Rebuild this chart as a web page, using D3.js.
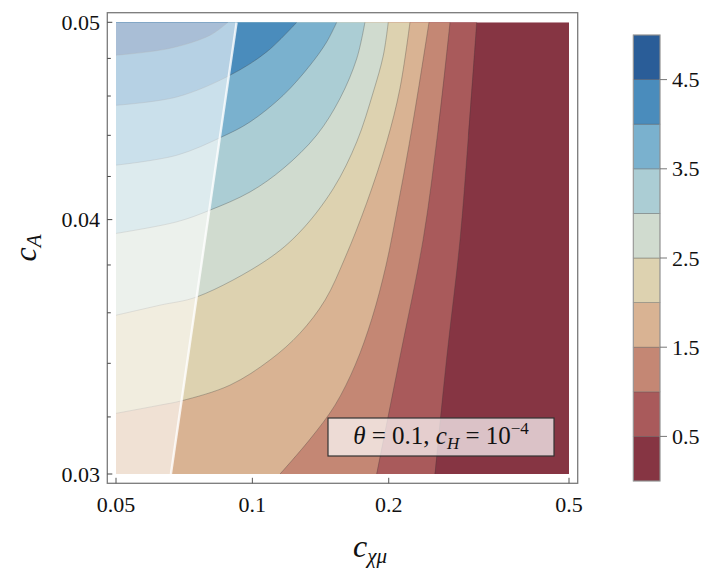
<!DOCTYPE html>
<html><head><meta charset="utf-8">
<script src="https://cdn.jsdelivr.net/npm/d3@7"></script>
<style>body{margin:0;background:#fff;} svg{display:block;}</style>
</head><body>
<svg id="chart" width="720" height="586"></svg>
<script>
// ---- data ----
const levels = [0.5, 1.0, 1.5, 2.0, 2.5, 3.0, 3.5, 4.0, 4.5];
const bandColors = ['#863543','#A95A5B','#C48774','#D9B393','#DDD2B0','#D0DBCF','#ABCDD4','#7AB1CE','#4A8CBC','#2A5D98'];
const colorbarTicks = [0.5, 1.5, 2.5, 3.5, 4.5];
const xTicks = [0.05, 0.1, 0.2, 0.5];
const yMajorTicks = [0.03, 0.04, 0.05];
const yMinorTicks = [0.032,0.034,0.036,0.038,0.042,0.044,0.046,0.048];
// contour boundaries [c_chi_mu, c_A]
const contour_0_5 = [[0.2530,0.03],[0.2686,0.03424],[0.2873,0.03908],[0.2997,0.04392],[0.3127,0.05]];
const contour_1_0 = [[0.1881,0.03],[0.2117,0.03424],[0.2381,0.03908],[0.2569,0.04426],[0.2731,0.05]];
const contour_1_5 = [[0.1151,0.03],[0.1341,0.03121],[0.1522,0.03243],[0.1686,0.03393],[0.1837,0.03578],[0.1973,0.03799],[0.2096,0.04066],[0.2217,0.04351],[0.2333,0.04656],[0.2454,0.05]];
const contour_2_0 = [[0.05,0.03213],[0.0625,0.03243],[0.0698,0.03259],[0.0892,0.03317],[0.1094,0.03413],[0.1274,0.03518],[0.1447,0.03652],[0.1601,0.03830],[0.1787,0.04075],[0.1980,0.04368],[0.2117,0.04639],[0.2228,0.05]];
const contour_2_5 = [[0.05,0.03590],[0.0625,0.03631],[0.0756,0.03666],[0.1075,0.03821],[0.1274,0.03945],[0.1509,0.04143],[0.1700,0.04368],[0.1849,0.04621],[0.1946,0.04817],[0.1995,0.05]];
const contour_3_0 = [[0.05,0.03938],[0.0681,0.03990],[0.0806,0.04043],[0.0988,0.04127],[0.1170,0.04238],[0.1387,0.04401],[0.1561,0.04587],[0.1700,0.04799],[0.1772,0.05]];
const contour_3_5 = [[0.05,0.04254],[0.0681,0.04302],[0.0856,0.04392],[0.0988,0.04467],[0.1170,0.04604],[0.1341,0.04763],[0.1459,0.04890],[0.1535,0.05]];
const contour_4_0 = [[0.05,0.04552],[0.0681,0.04595],[0.0892,0.04709],[0.1075,0.04835],[0.1253,0.05]];
const contour_4_5 = [[0.05,0.04817],[0.0658,0.04855],[0.0806,0.04927],[0.0883,0.05]];
const contours = [contour_0_5, contour_1_0, contour_1_5, contour_2_0, contour_2_5, contour_3_0, contour_3_5, contour_4_0, contour_4_5];
// boundary of the shaded (excluded) region
const boundaryLine = [[0.0661,0.03],[0.0923,0.05]];

// ---- drawing ----
const svg = d3.select('#chart');
const FONT = "'Liberation Serif','Times New Roman',serif";
const x = d3.scaleLog().domain([0.05,0.5]).range([116,569]);
const y = d3.scaleLog().domain([0.03,0.05]).range([474,22.3]);
const [x0,x1] = x.range(), [y0,y1] = y.range();

svg.append('clipPath').attr('id','plotclip').append('rect')
  .attr('x',x0).attr('y',y1).attr('width',x1-x0).attr('height',y0-y1);
const plot = svg.append('g').attr('clip-path','url(#plotclip)');

plot.append('rect').attr('x',x0).attr('y',y1).attr('width',x1-x0).attr('height',y0-y1)
  .attr('fill',bandColors[0]);

const line = d3.line().x(d=>x(d[0])).y(d=>y(d[1])).curve(d3.curveCatmullRom.alpha(0.5));
function regionPath(pts){
  let p = line(pts);
  p += `L${x(0.05)},${y(0.05)}`;
  if (pts[0][1] === 0.03) p += `L${x(0.05)},${y(0.03)}`;
  return p + 'Z';
}
contours.forEach((c,i)=>{
  plot.append('path').attr('d',regionPath(c)).attr('fill',bandColors[i+1]).attr('stroke','none');
});
contours.forEach(c=>{
  plot.append('path').attr('d',line(c)).attr('fill','none')
    .attr('stroke','#3a3a3a').attr('stroke-opacity',0.35).attr('stroke-width',0.9);
});
// white overlay of the left region
const ov = [[0.05,0.03],boundaryLine[0],boundaryLine[1],[0.05,0.05]];
plot.append('path').attr('d','M'+ov.map(d=>`${x(d[0])},${y(d[1])}`).join('L')+'Z')
  .attr('fill','#fff').attr('fill-opacity',0.6);
plot.append('path').attr('d',d3.line().x(d=>x(d[0])).y(d=>y(d[1]))(boundaryLine))
  .attr('stroke','#fff').attr('stroke-opacity',0.8).attr('stroke-width',2.4).attr('fill','none');

// frame
const fx0=107.3, fx1=577.7, fy0=12.7, fy1=483.3;
svg.append('rect').attr('x',fx0).attr('y',fy0).attr('width',fx1-fx0).attr('height',fy1-fy0)
  .attr('fill','none').attr('stroke','#7a7a7a').attr('stroke-width',1.3);

// x ticks
xTicks.forEach(t=>{
  svg.append('line').attr('x1',x(t)).attr('x2',x(t)).attr('y1',fy1).attr('y2',fy1-5.5)
    .attr('stroke','#555').attr('stroke-width',1);
  svg.append('text').attr('x',x(t)).attr('y',512).attr('text-anchor','middle')
    .attr('font-family',FONT).attr('font-size',22).attr('fill','#111').text(String(t));
});
// y ticks
yMajorTicks.forEach(t=>{
  svg.append('line').attr('x1',fx0).attr('x2',fx0+5).attr('y1',y(t)).attr('y2',y(t))
    .attr('stroke','#444').attr('stroke-width',1);
  svg.append('text').attr('x',100).attr('y',y(t)+7.5).attr('text-anchor','end')
    .attr('font-family',FONT).attr('font-size',22).attr('fill','#111').text(t.toFixed(2));
});
yMinorTicks.forEach(t=>{
  svg.append('line').attr('x1',fx0).attr('x2',fx0+3.5).attr('y1',y(t)).attr('y2',y(t))
    .attr('stroke','#444').attr('stroke-width',1);
});

// axis titles
const yt = svg.append('text').attr('transform','translate(36,248) rotate(-90)')
  .attr('text-anchor','middle').attr('font-family',FONT).attr('fill','#111');
yt.append('tspan').attr('font-style','italic').attr('font-size',32).text('c');
yt.append('tspan').attr('font-style','italic').attr('font-size',21).attr('dy',5).text('A');
const xt = svg.append('text').attr('x',370).attr('y',557)
  .attr('text-anchor','middle').attr('font-family',FONT).attr('fill','#111');
xt.append('tspan').attr('font-style','italic').attr('font-size',32).text('c');
xt.append('tspan').attr('font-style','italic').attr('font-size',21).attr('dy',6).text('χμ');

// label box
svg.append('rect').attr('x',328).attr('y',418).attr('width',226).attr('height',38)
  .attr('fill','#fff').attr('fill-opacity',0.7).attr('stroke','#333').attr('stroke-width',1.2);
const lb = svg.append('text').attr('x',441).attr('y',444).attr('text-anchor','middle')
  .attr('font-family',FONT).attr('font-size',25).attr('fill','#111')
  .attr('xml:space','preserve');
lb.append('tspan').attr('font-style','italic').text('θ');
lb.append('tspan').text(' = 0.1, ');
lb.append('tspan').attr('font-style','italic').text('c');
lb.append('tspan').attr('font-style','italic').attr('font-size',17).attr('dy',5).text('H');
lb.append('tspan').attr('dy',-5).text(' = 10');
lb.append('tspan').attr('font-size',17).attr('dy',-10).text('−4');

// colorbar
const cb = d3.scaleLinear().domain([0,5]).range([481,35]);
const cbx0 = 633.3, cbx1 = 660;
bandColors.forEach((c,i)=>{
  svg.append('rect').attr('x',cbx0).attr('y',cb(i*0.5+0.5)).attr('width',cbx1-cbx0)
    .attr('height',cb(i*0.5)-cb(i*0.5+0.5)).attr('fill',c)
    .attr('stroke','#555').attr('stroke-opacity',0.45).attr('stroke-width',0.8);
});
svg.append('rect').attr('x',cbx0).attr('y',cb(5)).attr('width',cbx1-cbx0).attr('height',cb(0)-cb(5))
  .attr('fill','none').attr('stroke','#999').attr('stroke-width',1);
colorbarTicks.forEach(t=>{
  svg.append('line').attr('x1',cbx1).attr('x2',cbx1+7).attr('y1',cb(t)).attr('y2',cb(t))
    .attr('stroke','#777').attr('stroke-width',1);
  svg.append('text').attr('x',672).attr('y',cb(t)+7.5).attr('font-family',FONT)
    .attr('font-size',22).attr('fill','#111').text(String(t));
});
</script>
</body></html>
